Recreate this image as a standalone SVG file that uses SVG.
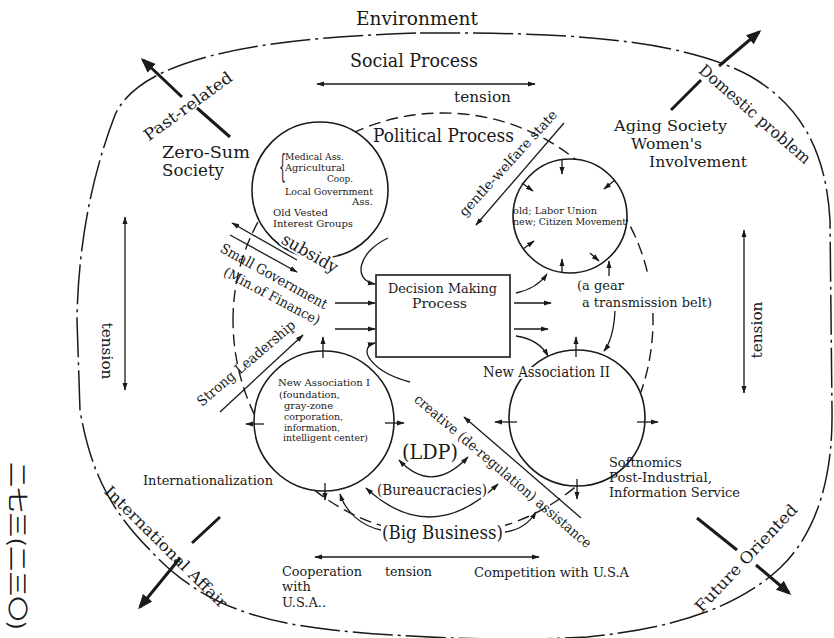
<svg xmlns="http://www.w3.org/2000/svg" width="834" height="638" viewBox="0 0 834 638">
<defs>
<style>
.t{font-family:"DejaVu Serif","Liberation Serif",serif;fill:#1a1a1a}
.j{font-family:"Noto Sans CJK JP",sans-serif;fill:#1a1a1a}
.h{paint-order:stroke;stroke:#fff;stroke-width:4;stroke-linejoin:round}
.ln{fill:none;stroke:#1a1a1a;stroke-width:1.3}
.a{marker-end:url(#ah)}
.a2{marker-start:url(#ah);marker-end:url(#ah)}
.tk{fill:none;stroke:#1a1a1a;stroke-width:3}
.tka{marker-end:url(#ahb)}
.c{fill:#fff;stroke:#1a1a1a;stroke-width:1.6}
.env{fill:none;stroke:#1a1a1a;stroke-width:1.5;stroke-dasharray:40 5 3 5}
.pol{fill:none;stroke:#1a1a1a;stroke-width:1.4;stroke-dasharray:12 6}
.bg{fill:#fff}
</style>
<marker id="ah" viewBox="0 0 10 10" refX="9" refY="5" markerWidth="8" markerHeight="8" markerUnits="userSpaceOnUse" orient="auto-start-reverse"><path d="M0,1.8 L10,5 L0,8.2 Z" fill="#1a1a1a"/></marker>
<marker id="ahb" viewBox="0 0 10 10" refX="8" refY="5" markerWidth="15" markerHeight="15" markerUnits="userSpaceOnUse" orient="auto"><path d="M0,1 L10,5 L0,9 Z" fill="#1a1a1a"/></marker>
</defs>
<rect width="834" height="638" fill="#fff"/>

<g id="environment">
<path class="env" d="M420 33 C560 32 680 38 750 76 C800 105 826 150 830 220 L832 410 C833 470 820 530 780 568 C740 605 680 628 587 637 C500 642 400 637 333 630 C260 622 200 605 150 550 C110 510 90 470 80 410 L77 320 C78 250 90 180 115 115 C140 60 250 38 420 33 Z"/>
</g>

<g id="political-process">
<path class="pol" d="M233 320 C233 205.7 327 113 443 113 C559 113 653 205.7 653 320 C653 438.7 559 535 443 535 C327 535 233 438.7 233 320 Z"/>
</g>

<g id="old-vested">
<circle class="c" cx="320" cy="190" r="68"/>
<text class="t" transform="translate(279,177) scale(0.35,1)" font-size="32">{</text>
<text class="t" font-size="10">
<tspan x="285" y="160" textLength="59" lengthAdjust="spacingAndGlyphs">Medical Ass.</tspan>
<tspan x="285" y="171" textLength="60" lengthAdjust="spacingAndGlyphs">Agricultural</tspan>
<tspan x="327" y="182" textLength="26" lengthAdjust="spacingAndGlyphs">Coop.</tspan>
<tspan x="285" y="195" textLength="88" lengthAdjust="spacingAndGlyphs">Local Government</tspan>
<tspan x="352" y="205" textLength="21" lengthAdjust="spacingAndGlyphs">Ass.</tspan>
<tspan x="273" y="216" textLength="55" lengthAdjust="spacingAndGlyphs">Old Vested</tspan>
<tspan x="273" y="227" textLength="80" lengthAdjust="spacingAndGlyphs">Interest Groups</tspan>
</text>
</g>

<g id="labor-union">
<circle class="c" cx="570" cy="216" r="57"/>
<text class="t" font-size="10">
<tspan x="513" y="214" textLength="84" lengthAdjust="spacingAndGlyphs">old; Labor Union</tspan>
<tspan x="513" y="225" textLength="113" lengthAdjust="spacingAndGlyphs">new; Citizen Movement</tspan>
</text>
</g>

<g id="new-association-1">
<circle class="c" cx="324" cy="421" r="70"/>
<text class="t" font-size="10">
<tspan x="278" y="386" textLength="92" lengthAdjust="spacingAndGlyphs">New Association I</tspan>
<tspan x="279" y="398" textLength="61" lengthAdjust="spacingAndGlyphs">(foundation,</tspan>
<tspan x="284" y="409" textLength="49" lengthAdjust="spacingAndGlyphs">gray-zone</tspan>
<tspan x="284" y="420" textLength="59" lengthAdjust="spacingAndGlyphs">corporation,</tspan>
<tspan x="284" y="431" textLength="56" lengthAdjust="spacingAndGlyphs">information,</tspan>
<tspan x="283" y="441" textLength="85" lengthAdjust="spacingAndGlyphs">intelligent center)</tspan>
</text>
</g>

<g id="new-association-2">
<circle class="c" cx="577" cy="418" r="68"/>
<text class="t h" x="483" y="377" font-size="14" textLength="127" lengthAdjust="spacingAndGlyphs">New Association II</text>
</g>

<g id="decision-making">
<rect x="376" y="275" width="134" height="82" fill="#fff" stroke="#1a1a1a" stroke-width="1.6"/>
<text class="t" font-size="12">
<tspan x="388" y="293" textLength="109" lengthAdjust="spacingAndGlyphs">Decision Making</tspan>
<tspan x="412" y="308" textLength="55" lengthAdjust="spacingAndGlyphs">Process</tspan>
</text>
</g>

<g id="connectors">
<line class="ln a2" x1="317" y1="84" x2="535" y2="84"/>
<line class="ln a2" x1="125" y1="217" x2="125" y2="390"/>
<line class="ln a2" x1="744" y1="230" x2="744" y2="393"/>
<line class="ln a2" x1="315" y1="557" x2="539" y2="557"/>
<line class="tk" x1="230" y1="137" x2="197" y2="108"/>
<line class="tk tka" x1="182" y1="97" x2="143" y2="60"/>
<line class="tk" x1="671" y1="110" x2="701" y2="80"/>
<line class="tk tka" x1="719" y1="66" x2="759" y2="32"/>
<line class="tk" x1="220" y1="517" x2="192" y2="543"/>
<line class="tk tka" x1="180" y1="558" x2="140" y2="607"/>
<line class="tk" x1="697" y1="518" x2="737" y2="550"/>
<line class="tk tka" x1="756" y1="565" x2="789" y2="593"/>
<line class="ln a" x1="564" y1="123" x2="476" y2="225"/>
<line class="ln a" x1="297" y1="260" x2="232" y2="223"/>
<line class="ln a" x1="230" y1="235" x2="297" y2="272"/>
<line class="ln a" x1="220" y1="412" x2="303" y2="335"/>
<line class="ln a" x1="581" y1="518" x2="464" y2="417"/>
<line class="ln a" x1="335" y1="303" x2="375" y2="303"/>
<line class="ln a" x1="335" y1="329" x2="375" y2="329"/>
<path class="ln a" d="M388 238 C358 252 352 280 375 284"/>
<path class="ln a" d="M410 382 C372 372 356 348 375 343"/>
<path class="ln a" d="M516 293 C530 290 540 284 547 274"/>
<line class="ln a" x1="514" y1="303" x2="551" y2="303"/>
<line class="ln a" x1="514" y1="329" x2="548" y2="329"/>
<path class="ln a" d="M516 336 C530 338 542 345 548 356"/>
<line class="ln a" x1="609" y1="276" x2="609" y2="261"/>
<path class="ln a" d="M615 311 C614 330 611 342 604 351"/>
<path class="ln a2" d="M399 460 Q432 495 468 457"/>
<path class="ln a2" d="M366 488 Q431 548 498 484"/>
<path class="ln a" d="M381 530 C362 526 346 513 340 494"/>
<path class="ln a" d="M505 532 C520 530 530 522 536 512"/>
<line class="ln a" x1="562" y1="160" x2="562" y2="174"/>
<line class="ln a" x1="522" y1="183" x2="533" y2="191"/>
<line class="ln a" x1="615" y1="180" x2="604" y2="189"/>
<line class="ln a" x1="523" y1="249" x2="534" y2="241"/>
<line class="ln a" x1="562" y1="272" x2="562" y2="259"/>
<line class="ln a" x1="590" y1="253" x2="599" y2="261"/>
<line class="ln a" x1="323" y1="358" x2="323" y2="337"/>
<line class="ln a" x1="264" y1="424" x2="246" y2="424"/>
<line class="ln a" x1="385" y1="423" x2="404" y2="423"/>
<line class="ln a" x1="325" y1="483" x2="325" y2="500"/>
<line class="ln a" x1="576" y1="357" x2="576" y2="337"/>
<line class="ln a" x1="517" y1="422" x2="495" y2="422"/>
<line class="ln a" x1="637" y1="422" x2="658" y2="422"/>
<line class="ln a" x1="577" y1="479" x2="577" y2="499"/>
</g>

<g id="labels">
<text class="t" x="356" y="25" font-size="18" textLength="122" lengthAdjust="spacingAndGlyphs">Environment</text>
<text class="t" x="350" y="67" font-size="18" textLength="128" lengthAdjust="spacingAndGlyphs">Social Process</text>
<text class="t" x="454" y="102" font-size="15.5" textLength="57" lengthAdjust="spacingAndGlyphs">tension</text>
<text class="t" x="373" y="142" font-size="18" textLength="141" lengthAdjust="spacingAndGlyphs">Political Process</text>
<text class="t" font-size="16">
<tspan x="162" y="158" textLength="88" lengthAdjust="spacingAndGlyphs">Zero-Sum</tspan>
<tspan x="162" y="176" textLength="62" lengthAdjust="spacingAndGlyphs">Society</tspan>
</text>
<text class="t" font-size="15.5">
<tspan x="614" y="131" textLength="113" lengthAdjust="spacingAndGlyphs">Aging Society</tspan>
<tspan x="631" y="149" textLength="71" lengthAdjust="spacingAndGlyphs">Women's</tspan>
<tspan x="649" y="167" textLength="98" lengthAdjust="spacingAndGlyphs">Involvement</tspan>
</text>
<text class="t" transform="translate(188,106) rotate(-36)" text-anchor="middle" dy="0.35em" font-size="16" textLength="105" lengthAdjust="spacingAndGlyphs">Past-related</text>
<text class="t" transform="translate(755,114) rotate(41)" text-anchor="middle" dy="0.35em" font-size="16" textLength="142" lengthAdjust="spacingAndGlyphs">Domestic problem</text>
<text class="t" transform="translate(166,547) rotate(44.8)" text-anchor="middle" dy="0.35em" font-size="15.5" textLength="166" lengthAdjust="spacingAndGlyphs">International Affair</text>
<text class="t" transform="translate(746,558) rotate(-46.7)" text-anchor="middle" dy="0.35em" font-size="16" textLength="141" lengthAdjust="spacingAndGlyphs">Future Oriented</text>
<text class="t" transform="translate(508,163) rotate(-47.6)" text-anchor="middle" dy="0.35em" font-size="13.5" textLength="138" lengthAdjust="spacingAndGlyphs">gentle-welfare state</text>
<text class="t h" transform="translate(310,253) rotate(30)" text-anchor="middle" dy="0.35em" font-size="17" textLength="62" lengthAdjust="spacingAndGlyphs">subsidy</text>
<text class="t" transform="translate(274,276) rotate(29)" text-anchor="middle" dy="0.35em" font-size="14" textLength="120" lengthAdjust="spacingAndGlyphs">Small Government</text>
<text class="t" transform="translate(272,296) rotate(28)" text-anchor="middle" dy="0.35em" font-size="13.5" textLength="107" lengthAdjust="spacingAndGlyphs">(Min.of Finance)</text>
<text class="t" transform="translate(246,363) rotate(-40.4)" text-anchor="middle" dy="0.35em" font-size="14" textLength="124" lengthAdjust="spacingAndGlyphs">Strong Leadership</text>
<text class="t" transform="translate(503,471) rotate(40.5)" text-anchor="middle" dy="0.35em" font-size="14" textLength="228" lengthAdjust="spacingAndGlyphs">creative (de-regulation) assistance</text>
<text class="t" transform="translate(107,351) rotate(90)" text-anchor="middle" dy="0.35em" font-size="15.5" textLength="57" lengthAdjust="spacingAndGlyphs">tension</text>
<text class="t" transform="translate(757,330) rotate(-90)" text-anchor="middle" dy="0.35em" font-size="15.5" textLength="57" lengthAdjust="spacingAndGlyphs">tension</text>
<rect class="bg" x="576" y="277" width="138" height="33"/>
<text class="t" font-size="13.5">
<tspan x="577" y="290" textLength="47" lengthAdjust="spacingAndGlyphs">(a gear</tspan>
<tspan x="582" y="307" textLength="130" lengthAdjust="spacingAndGlyphs">a transmission belt)</tspan>
</text>
<text class="t h" x="402" y="459" font-size="20" textLength="56" lengthAdjust="spacingAndGlyphs">(LDP)</text>
<text class="t h" x="377" y="495" font-size="14" textLength="110" lengthAdjust="spacingAndGlyphs">(Bureaucracies)</text>
<rect class="bg" x="381" y="522" width="124" height="21"/>
<text class="t" x="382" y="539" font-size="18" textLength="121" lengthAdjust="spacingAndGlyphs">(Big Business)</text>
<text class="t" x="143" y="485" font-size="13.5" textLength="130" lengthAdjust="spacingAndGlyphs">Internationalization</text>
<text class="t" font-size="13">
<tspan x="282" y="576" textLength="80" lengthAdjust="spacingAndGlyphs">Cooperation</tspan>
<tspan x="282" y="591">with</tspan>
<tspan x="282" y="607">U.S.A..</tspan>
</text>
<text class="t" x="385" y="576" font-size="13" textLength="47" lengthAdjust="spacingAndGlyphs">tension</text>
<text class="t" x="474" y="577" font-size="13.5" textLength="155" lengthAdjust="spacingAndGlyphs">Competition with U.S.A</text>
<text class="t" font-size="13">
<tspan x="609" y="467" textLength="73" lengthAdjust="spacingAndGlyphs">Softnomics</tspan>
<tspan x="609" y="482" textLength="103" lengthAdjust="spacingAndGlyphs">Post-Industrial,</tspan>
<tspan x="609" y="497" textLength="131" lengthAdjust="spacingAndGlyphs">Information Service</tspan>
</text>
<text class="j" transform="translate(17,546) rotate(90)" text-anchor="middle" dy="0.35em" font-size="20" textLength="168" lengthAdjust="spacingAndGlyphs">二七三(二三〇)</text>
</g>
</svg>
